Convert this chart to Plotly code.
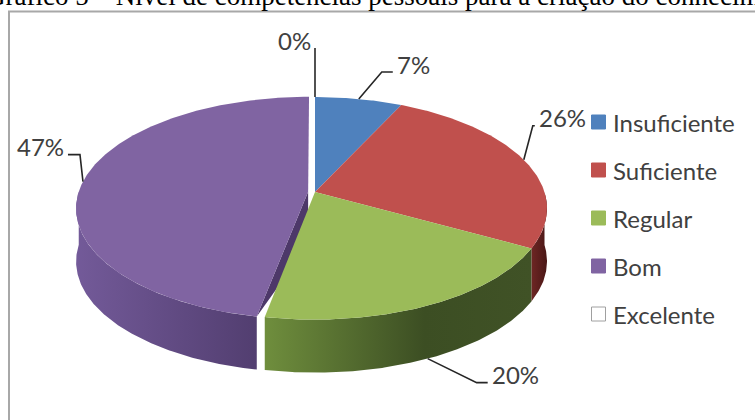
import numpy as np
import plotly.graph_objects as go

# ---- data -------------------------------------------------------------
categories = ["Insuficiente", "Suficiente", "Regular", "Bom", "Excelente"]
values = [7, 26, 20, 47, 0]
title_text = "Gráfico 5 – Nível de competências pessoais para a criação do conhecimento"

# ---- styles -----------------------------------------------------------
top_colors = ["#4f81bd", "#c0504d", "#9bbb59", "#8064a2", "#ffffff"]
wall_scales = [
    [[0, "#3a6296"], [1, "#2b4a73"]],
    [[0, "#6e2624"], [1, "#4a1716"]],
    [[0, "#6f8e3d"], [0.6, "#3c4e23"], [1, "#405226"]],
    [[0, "#735a99"], [1, "#523e70"]],
    [[0, "#dddddd"], [1, "#bbbbbb"]],
]
face_colors = ["#2b4a73", "#4a1716", "#3c4e23", "#4d3869", "#bbbbbb"]
explode = [0.0, 0.0, 0.0, 0.03, 0.0]
# leader line: (elbow dx, elbow dy, horizontal run) from the rim anchor
leaders = [(23, -27, 11), (9, -34, 2), (49, 24, 11), (-3, -27, -12), (0, -49, 0)]
text_side = ["left", "left", "left", "right", "right"]

W, H = 755, 420
CX, CY = 315.0, 192.0      # pie centre
A, B = 229.5, 108.9        # horizontal / vertical radii of the top face
K = 0.1468                 # perspective factor
DEPTH = 53.0               # thickness of the disc
LABEL_FONT = "Lato, 'Open Sans', sans-serif"
TEXT_COLOR = "#404040"


def proj(theta_deg, r=1.0, off=(0.0, 0.0), drop=0.0):
    t = np.radians(theta_deg)
    u = r * np.sin(t) + off[0]
    v = r * np.cos(t) + off[1]
    d = 1 + K * v
    return CX + A * u / d, CY - B * v / d + drop


total = float(sum(values))
ends = np.cumsum(values) / total * 360.0
starts = np.concatenate([[0.0], ends[:-1]])
mids = (starts + ends) / 2.0
offsets = []
for i in range(len(values)):
    m = np.radians(mids[i])
    offsets.append((explode[i] * np.sin(m), explode[i] * np.cos(m)))

fig = go.Figure()


def add_poly(xs, ys, color=None, gradient=None):
    kw = dict(x=list(xs), y=list(ys), mode="lines", fill="toself",
              line=dict(width=0, color="rgba(0,0,0,0)"),
              hoverinfo="skip", showlegend=False)
    if gradient is not None:
        kw["fillgradient"] = dict(type="horizontal", colorscale=gradient)
    else:
        kw["fillcolor"] = color
    fig.add_trace(go.Scatter(**kw))


# radial cut faces of exploded slices (start edge, facing the viewer)
for i in range(len(values)):
    if values[i] == 0 or explode[i] == 0:
        continue
    cx0, cy0 = proj(0, r=0, off=offsets[i])
    rx, ry = proj(starts[i], off=offsets[i])
    add_poly([cx0, rx, cx0, cx0], [cy0, ry, cy0 + DEPTH, cy0], color=face_colors[i])

# outer walls of the front half
for i in range(len(values)):
    if values[i] == 0:
        continue
    lo, hi = max(starts[i], 90.0), min(ends[i], 270.0)
    if hi <= lo:
        continue
    th = np.linspace(lo, hi, int(hi - lo) * 2 + 2)
    tx, ty = proj(th, off=offsets[i])
    bx, by = proj(th[::-1], off=offsets[i], drop=DEPTH)
    add_poly(np.concatenate([tx, bx, tx[:1]]), np.concatenate([ty, by, ty[:1]]),
             gradient=wall_scales[i])

# top faces
for i in range(len(values)):
    if values[i] == 0:
        continue
    th = np.linspace(starts[i], ends[i], int(ends[i] - starts[i]) * 2 + 2)
    cx0, cy0 = proj(0, r=0, off=offsets[i])
    rx, ry = proj(th, off=offsets[i])
    add_poly(np.concatenate([[cx0], rx, [cx0]]), np.concatenate([[cy0], ry, [cy0]]),
             color=top_colors[i])

# leader lines and percentage labels
lx, ly = [], []
annotations = []
for i in range(len(values)):
    front = np.cos(np.radians(mids[i])) < -0.5
    ax, ay = proj(mids[i], off=offsets[i], drop=DEPTH if front else 0.0)
    dx, dy, run = leaders[i]
    ex, ey = ax + dx, ay + dy
    fx = ex + run
    lx += [ax, ex, fx, None]
    ly += [ay, ey, ey, None]
    gap = 2 if text_side[i] == "left" else -2
    annotations.append(dict(
        x=fx + gap, y=ey - 8, xref="x", yref="y", text=f"{values[i]}%",
        showarrow=False, xanchor=text_side[i], yanchor="middle",
        font=dict(family=LABEL_FONT, size=24, color=TEXT_COLOR)))

fig.add_trace(go.Scatter(x=lx, y=ly, mode="lines", line=dict(color="#262626", width=1.6),
                         hoverinfo="skip", showlegend=False))

# legend
LEG_X, LEG_Y0, LEG_DY = 598.5, 122.0, 48.0
for i, cat in enumerate(categories):
    yy = LEG_Y0 + LEG_DY * i
    edge = "#a0a0a0" if top_colors[i] == "#ffffff" else top_colors[i]
    fig.add_trace(go.Scatter(x=[LEG_X], y=[yy], mode="markers",
                             marker=dict(symbol="square", size=14, color=top_colors[i],
                                         line=dict(color=edge, width=1)),
                             hoverinfo="skip", showlegend=False))
    annotations.append(dict(
        x=LEG_X + 12, y=yy, xref="x", yref="y", text=cat, showarrow=False,
        xanchor="left", yanchor="middle",
        font=dict(family=LABEL_FONT, size=24, color=TEXT_COLOR)))

# caption above the chart frame (runs past the page edges)
annotations.append(dict(
    x=-16 / W, y=1 - 13 / H, xref="paper", yref="paper", text=title_text, showarrow=False,
    xanchor="left", yanchor="bottom",
    font=dict(family="'Liberation Serif', 'Times New Roman', serif", size=27, color="#000000")))

fig.update_layout(
    width=W, height=H, margin=dict(l=0, r=0, t=0, b=0),
    paper_bgcolor="white", plot_bgcolor="white",
    xaxis=dict(range=[0, W], visible=False, fixedrange=True),
    yaxis=dict(range=[H, 0], visible=False, fixedrange=True),
    annotations=annotations,
    shapes=[dict(type="rect", xref="x", yref="y", x0=9, y0=11.5, x1=W + 40, y1=H + 40,
                 line=dict(color="#a8a8a8", width=2), fillcolor="rgba(0,0,0,0)",
                 layer="below")],
)

fig.write_html("out.html")
